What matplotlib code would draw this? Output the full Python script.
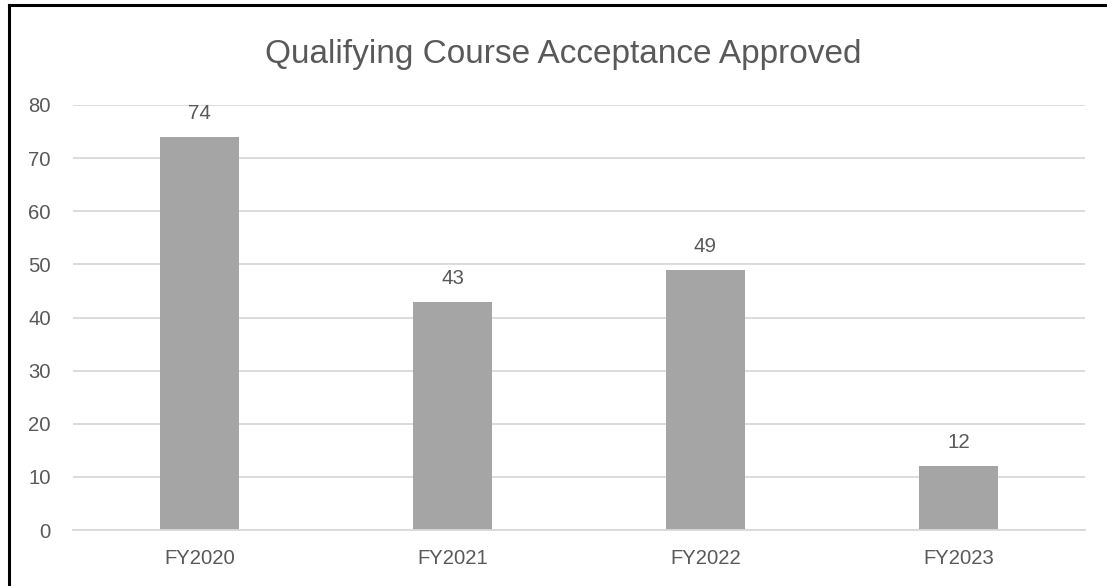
import matplotlib
matplotlib.use("Agg")
import matplotlib.pyplot as plt
from matplotlib.lines import Line2D

# Daten
categories = ["FY2020", "FY2021", "FY2022", "FY2023"]
values = [74, 43, 49, 12]
y_ticks = [0, 10, 20, 30, 40, 50, 60, 70, 80]

TITLE = "Qualifying Course Acceptance Approved"
BAR_COLOR = "#A5A5A5"
GRID_COLOR = "#D9D9D9"
TEXT_COLOR = "#595959"

plt.rcParams.update({
    "font.family": ["Liberation Sans", "DejaVu Sans"],
    "figure.facecolor": "white",
})

fig = plt.figure(figsize=(11.07, 5.86), dpi=100)
ax = fig.add_axes([73 / 1107, 1 - 530 / 586, (1085 - 73) / 1107, (530 - 105) / 586])

x = list(range(len(categories)))
bars = ax.bar(x, values, width=0.312, color=BAR_COLOR, zorder=2)

for rect, v in zip(bars, values):
    ax.annotate(str(v), (rect.get_x() + rect.get_width() / 2, v),
                xytext=(0, 10), textcoords="offset points",
                ha="center", va="bottom", fontsize=14.8, color=TEXT_COLOR)

ax.set_xlim(-0.5, len(categories) - 0.5)
ax.set_ylim(0, 80)
ax.set_yticks(y_ticks)
ax.set_xticks(x)
ax.set_xticklabels(categories)
ax.yaxis.grid(True, color=GRID_COLOR, linewidth=1.3, zorder=0)
ax.set_axisbelow(True)
for s in ["top", "right", "left"]:
    ax.spines[s].set_visible(False)
ax.spines["bottom"].set_color(GRID_COLOR)
ax.spines["bottom"].set_linewidth(1.3)
ax.tick_params(axis="both", length=0, labelsize=14.6, labelcolor=TEXT_COLOR)
ax.tick_params(axis="y", pad=16)
ax.tick_params(axis="x", pad=14)

fig.text(563 / 1107, 1 - 63 / 586, TITLE, ha="center", va="baseline",
         fontsize=24, color=TEXT_COLOR)

# Rahmen (links und oben sichtbar)
fig.add_artist(Line2D([9 / 1107, 9 / 1107], [0, 1 - 5 / 586],
                      transform=fig.transFigure, color="black", linewidth=2.2))
fig.add_artist(Line2D([9 / 1107, 1.0], [1 - 5 / 586, 1 - 5 / 586],
                      transform=fig.transFigure, color="black", linewidth=2.2))

fig.savefig("out.png", dpi=100)
